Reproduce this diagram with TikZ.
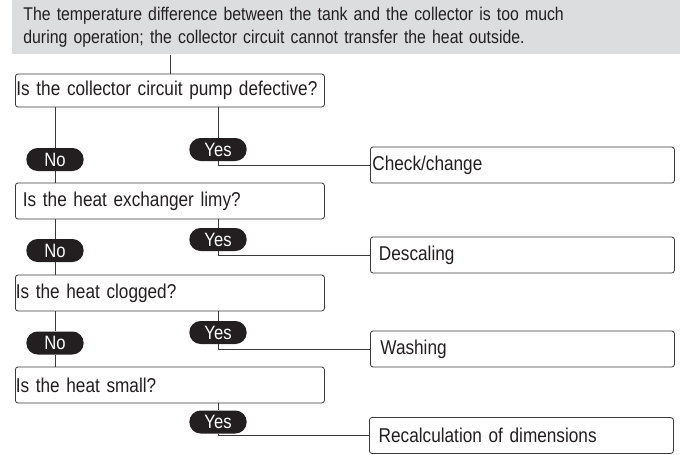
\documentclass[tikz,border=0pt]{standalone}
\usepackage{fontspec}
\setmainfont{Liberation Sans}[FakeStretch=0.86,WordSpace=0.86]
\usepackage{tikz}
\usetikzlibrary{calc}
\definecolor{ink}{HTML}{231F20}
\definecolor{hdrgray}{HTML}{DCDDDF}
\definecolor{edge}{HTML}{3A3A3A}

\begin{document}
\begin{tikzpicture}[x=0.75pt,y=-0.75pt,line width=0.6pt,draw=edge,
  hdr/.style={fill=hdrgray,anchor=north west,minimum width=501pt,minimum height=40.5pt,
    inner xsep=8.25pt,text width=484.5pt,align=left,text=ink,font=\fontsize{13.8}{17.5}\selectfont},
  qbox/.style={draw=edge,rounded corners=2pt,anchor=west,minimum height=27pt,inner xsep=#1,
    text width=231.75pt-2*#1,align=left,text=ink,font=\fontsize{15}{18}\selectfont},
  qbox/.default=1pt,
  abox/.style={qbox=#1,text width=228pt-2*#1},
  pill/.style={fill=ink,text=white,rounded corners=8.5pt,minimum width=43pt,minimum height=17.25pt,
    inner sep=0pt,font=\fontsize{14.5}{16}\selectfont}]
  \useasboundingbox (0,0) rectangle (680,454);
  % header
  \node[hdr] (hdr) at (12,0) {The temperature difference between the tank and the collector is too much\\during operation; the collector circuit cannot transfer the heat outside.};
  % questions
  \node[qbox=0.75pt,minimum height=24.75pt] (q1) at (15,90.5) {Is the collector circuit pump defective?};
  \node[qbox=5.6pt] (q2) at (15,201) {Is the heat exchanger limy?};
  \node[qbox=0.3pt] (q3) at (15,293) {Is the heat clogged?};
  \node[qbox=0.3pt] (q4) at (15,385) {Is the heat small?};
  % actions
  \node[abox=1.5pt] (a1) at (370,165) {Check/change};
  \node[abox=6.4pt] (a2) at (370,255) {Descaling};
  \node[abox=7.5pt] (a3) at (370,349) {Washing};
  \node[abox=7pt] (a4) at (369,435.5) {Recalculation of dimensions};
  % answers
  \node[pill] (no1) at (55,159.5) {No};
  \node[pill] (no2) at (55,250.5) {No};
  \node[pill] (no3) at (55,343) {No};
  \node[pill] (yes1) at (218,149.5) {Yes};
  \node[pill] (yes2) at (218,239.5) {Yes};
  \node[pill] (yes3) at (218,332.5) {Yes};
  \node[pill] (yes4) at (218,422) {Yes};
  % lines
  \draw (hdr.south -| q1.north) -- (q1.north);
  \foreach \i/\j in {1/2,2/3,3/4}
    \draw (q\i.south -| no\i) -- (no\i.north) (no\i.south) -- (no\i.south |- q\j.north);
  \foreach \i in {1,...,4}
    \draw (q\i.south -| yes\i) -- (yes\i.north) (yes\i.south) |- (a\i.west);
\end{tikzpicture}
\end{document}
